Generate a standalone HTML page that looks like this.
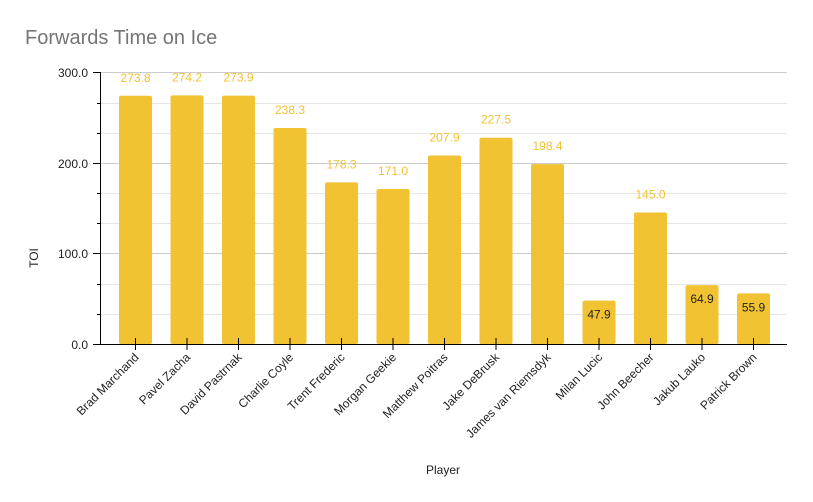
<!DOCTYPE html>
<html><head><meta charset="utf-8"><style>body{margin:0;background:#fff}svg{display:block;font-family:"Liberation Sans",Arial,sans-serif}</style></head>
<body>
<svg width="813" height="502" xmlns="http://www.w3.org/2000/svg">
<rect width="813" height="502" fill="#fff"/>
<text x="25" y="44" font-size="20" fill="#757575">Forwards Time on Ice</text>
<g stroke="#e6e6e6" stroke-width="1">
<line x1="100" x2="787" y1="103.5" y2="103.5"/><line x1="100" x2="787" y1="133.5" y2="133.5"/>
<line x1="100" x2="787" y1="193.5" y2="193.5"/><line x1="100" x2="787" y1="223.5" y2="223.5"/>
<line x1="100" x2="787" y1="284.5" y2="284.5"/><line x1="100" x2="787" y1="314.5" y2="314.5"/>
</g>
<g stroke="#cccccc" stroke-width="1">
<line x1="100" x2="787" y1="72.5" y2="72.5"/><line x1="100" x2="787" y1="163.5" y2="163.5"/><line x1="100" x2="787" y1="253.5" y2="253.5"/>
</g>
<g font-size="12" fill="#222" text-anchor="end">
<text x="88" y="77">300.0</text><text x="88" y="168">200.0</text><text x="88" y="258">100.0</text><text x="88" y="349">0.0</text>
</g>
<text transform="translate(38,258) rotate(-90)" font-size="12" fill="#222" text-anchor="middle">TOI</text>
<text x="443" y="474" font-size="12" fill="#222" text-anchor="middle">Player</text>
<g id="bars"></g>
<g stroke="#000" stroke-width="1">
<line x1="100.5" x2="100.5" y1="72" y2="344"/>
<line x1="93" x2="100" y1="72.5" y2="72.5"/><line x1="93" x2="100" y1="163.5" y2="163.5"/><line x1="93" x2="100" y1="253.5" y2="253.5"/><line x1="93" x2="100" y1="344.5" y2="344.5"/>
<line x1="97" x2="100" y1="103.5" y2="103.5"/><line x1="97" x2="100" y1="133.5" y2="133.5"/><line x1="97" x2="100" y1="193.5" y2="193.5"/><line x1="97" x2="100" y1="223.5" y2="223.5"/><line x1="97" x2="100" y1="284.5" y2="284.5"/><line x1="97" x2="100" y1="314.5" y2="314.5"/>
<line x1="100" x2="787" y1="344.5" y2="344.5"/>
</g>
<g id="ticks"></g>
<script>
(function(){
var names=["Brad Marchand","Pavel Zacha","David Pastrnak","Charlie Coyle","Trent Frederic","Morgan Geekie","Matthew Poitras","Jake DeBrusk","James van Riemsdyk","Milan Lucic","John Beecher","Jakub Lauko","Patrick Brown"];
var vals=[273.8,274.2,273.9,238.3,178.3,171.0,207.9,227.5,198.4,47.9,145.0,64.9,55.9];
var ns="http://www.w3.org/2000/svg",b=document.getElementById("bars"),t=document.getElementById("ticks");
function el(p,tag,a,txt){var e=document.createElementNS(ns,tag);for(var k in a)e.setAttribute(k,a[k]);if(txt)e.textContent=txt;p.appendChild(e);return e;}
for(var i=0;i<13;i++){var c=135.5+i*51.5,h=vals[i]*272/300,ty=344-h;
el(b,"rect",{x:c-16.5,y:ty,width:33,height:h,rx:2,fill:"#f1c232"});
if(vals[i]>100)el(b,"text",{x:c,y:ty-14,"font-size":12,fill:"#f1c232","text-anchor":"middle"},vals[i].toFixed(1));
else el(b,"text",{x:c,y:ty+18,"font-size":12,fill:"#222","text-anchor":"middle"},vals[i].toFixed(1));
el(t,"line",{x1:c,x2:c,y1:338,y2:350,stroke:"#000"});
el(t,"text",{transform:"translate("+(c+4)+",358) rotate(-45)","font-size":12,fill:"#222","text-anchor":"end"},names[i]);}
})();
</script>
</svg>
</body></html>
